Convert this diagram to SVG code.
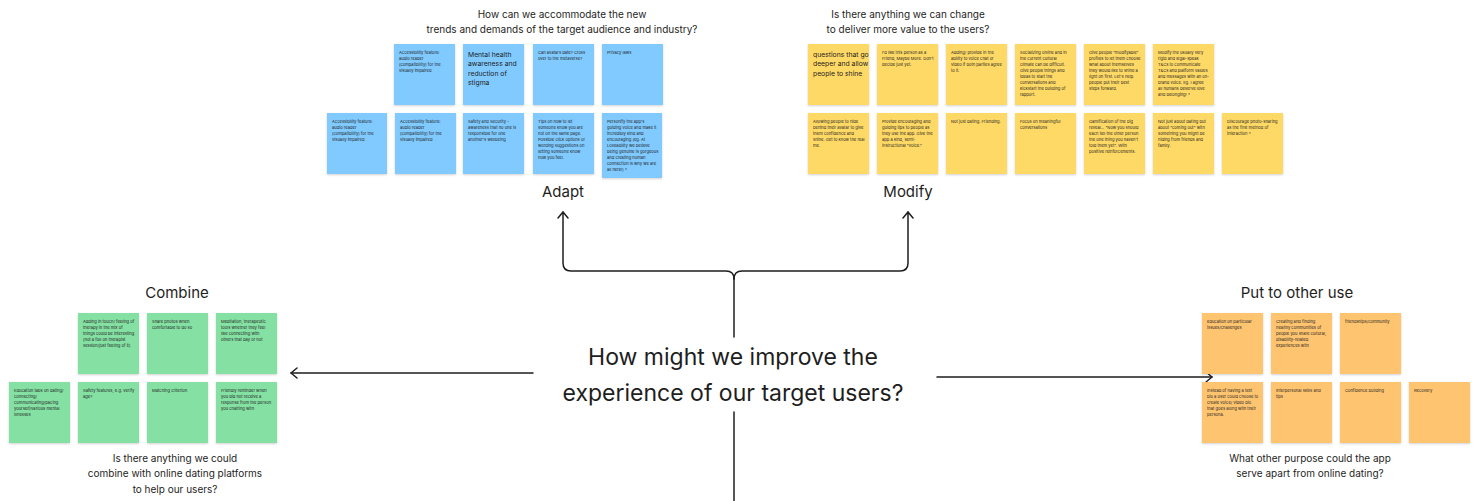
<svg xmlns="http://www.w3.org/2000/svg" width="1477" height="501" viewBox="0 0 1477 501">
<style>
text{font-family:Inter,"Liberation Sans",sans-serif;fill:#1e1e1e}
.s{font-size:4.1px}
.L{font-size:6.8px}
.t{font-size:15px;text-anchor:middle}
.q{font-size:10px;text-anchor:middle}
.c{font-size:23px;text-anchor:middle}
.b{fill:#80caff}.y{fill:#ffd966}.g{fill:#85e0a3}.o{fill:#ffc470}
.st{filter:url(#sh)}
.ln{fill:none;stroke:#1e1e1e;stroke-width:1.5;stroke-linecap:round;stroke-linejoin:round}
</style>
<defs>
<filter id="sh" x="-10%" y="-10%" width="120%" height="130%"><feDropShadow dx="0" dy="1" stdDeviation="0.8" flood-color="#000" flood-opacity="0.18"/></filter>
<marker id="ah" viewBox="0 0 12 12" refX="11" refY="6" markerWidth="12" markerHeight="12" markerUnits="userSpaceOnUse" orient="auto"><path d="M5,1 L11,6 L5,11" fill="none" stroke="#1e1e1e" stroke-width="1.5" stroke-linecap="round" stroke-linejoin="round"/></marker>
</defs>
<rect width="1477" height="501" fill="#ffffff"/>

<g id="connectors">
<path class="ln" d="M734,279 Q734,271 726,271 H571 Q563,271 563,263 V212" marker-end="url(#ah)"/>
<path class="ln" d="M734,279 Q734,271 742,271 H900 Q908,271 908,263 V212" marker-end="url(#ah)"/>
<path class="ln" d="M734,279 V337"/>
<path class="ln" d="M533,373 H291" marker-end="url(#ah)"/>
<path class="ln" d="M937,377 H1212" marker-end="url(#ah)"/>
<path class="ln" d="M734,412 V501"/>
</g>

<g id="center">
<text class="c" x="733" y="365">How might we improve the</text>
<text class="c" x="733" y="401">experience of our target users?</text>
</g>

<g id="adapt">
<text class="q" x="562" y="18">How can we accommodate the new</text>
<text class="q" x="562" y="33">trends and demands of the target audience and industry?</text>
<text class="t" x="563" y="197">Adapt</text>
</g>
<g id="modify">
<text class="q" x="908" y="18">Is there anything we can change</text>
<text class="q" x="908" y="33">to deliver more value to the users?</text>
<text class="t" x="908" y="197">Modify</text>
</g>
<g id="combine">
<text class="t" x="177" y="298">Combine</text>
<text class="q" x="175" y="462">Is there anything we could</text>
<text class="q" x="175" y="477">combine with online dating platforms</text>
<text class="q" x="175" y="493">to help our users?</text>
</g>
<g id="put-to-other-use">
<text class="t" x="1297" y="298">Put to other use</text>
<text class="q" x="1310" y="462">What other purpose could the app</text>
<text class="q" x="1310" y="477">serve apart from online dating?</text>
</g>

<!-- Blue stickies -->
<g id="b1" transform="translate(394,44)"><rect class="b st" width="61" height="61"/><text class="s" x="5" y="10"><tspan x="5">Accessibility feature:</tspan><tspan x="5" dy="6">audio reader</tspan><tspan x="5" dy="6">(compatibility) for the</tspan><tspan x="5" dy="6">visually impaired</tspan></text></g>
<g id="b2" transform="translate(463,44)"><rect class="b st" width="61" height="61"/><text class="L" x="5" y="13"><tspan x="5">Mental health</tspan><tspan x="5" dy="9.3">awareness and</tspan><tspan x="5" dy="9.3">reduction of</tspan><tspan x="5" dy="9.3">stigma</tspan></text></g>
<g id="b3" transform="translate(533,44)"><rect class="b st" width="61" height="61"/><text class="s" x="5" y="10"><tspan x="5">Can avatars date? Cross</tspan><tspan x="5" dy="6">over to the metaverse?</tspan></text></g>
<g id="b4" transform="translate(602,44)"><rect class="b st" width="61" height="61"/><text class="s" x="5" y="10"><tspan x="5">Privacy laws</tspan></text></g>

<g id="b5" transform="translate(327,113)"><rect class="b st" width="60" height="61"/><text class="s" x="5" y="10"><tspan x="5">Accessibility feature:</tspan><tspan x="5" dy="6">audio reader</tspan><tspan x="5" dy="6">(compatibility) for the</tspan><tspan x="5" dy="6">visually impaired</tspan></text></g>
<g id="b6" transform="translate(395,113)"><rect class="b st" width="61" height="61"/><text class="s" x="5" y="10"><tspan x="5">Accessibility feature:</tspan><tspan x="5" dy="6">audio reader</tspan><tspan x="5" dy="6">(compatibility) for the</tspan><tspan x="5" dy="6">visually impaired</tspan></text></g>
<g id="b7" transform="translate(463,113)"><rect class="b st" width="61" height="61"/><text class="s" x="5" y="10"><tspan x="5">Safety and Security -</tspan><tspan x="5" dy="6">awareness that no one is</tspan><tspan x="5" dy="6">responsible for one</tspan><tspan x="5" dy="6">another's wellbeing</tspan></text></g>
<g id="b8" transform="translate(533,113)"><rect class="b st" width="61" height="61"/><text class="s" x="5" y="10"><tspan x="5">Tips on how to let</tspan><tspan x="5" dy="6">someone know you are</tspan><tspan x="5" dy="6">not on the same page.</tspan><tspan x="5" dy="6">Possible click options or</tspan><tspan x="5" dy="6">wording suggestions on</tspan><tspan x="5" dy="6">letting someone know</tspan><tspan x="5" dy="6">how you feel.</tspan></text></g>
<g id="b9" transform="translate(602,113)"><rect class="b st" width="60" height="65"/><text class="s" x="5" y="10"><tspan x="5">Personify the app's</tspan><tspan x="5" dy="6">guiding voice and make it</tspan><tspan x="5" dy="6">incredibly kind and</tspan><tspan x="5" dy="6">encouraging (eg. At</tspan><tspan x="5" dy="6">Loveability we believe</tspan><tspan x="5" dy="6">being genuine is gorgeous</tspan><tspan x="5" dy="6">and creating human</tspan><tspan x="5" dy="6">connection is why we are</tspan><tspan x="5" dy="6">all here!) *</tspan></text></g>

<!-- Yellow stickies -->
<g id="y1" transform="translate(808,44)"><rect class="y st" width="61" height="61"/><text class="L" x="5" y="13"><tspan x="5">questions that go</tspan><tspan x="5" dy="9.3">deeper and allow</tspan><tspan x="5" dy="9.3">people to shine</tspan></text></g>
<g id="y2" transform="translate(877,44)"><rect class="y st" width="61" height="61"/><text class="s" x="5" y="10"><tspan x="5">I'd like this person as a</tspan><tspan x="5" dy="6">Friend, Maybe More. Don't</tspan><tspan x="5" dy="6">decide just yet.</tspan></text></g>
<g id="y3" transform="translate(946,44)"><rect class="y st" width="61" height="61"/><text class="s" x="5" y="10"><tspan x="5">Adding/ provide in the</tspan><tspan x="5" dy="6">ability to voice chat or</tspan><tspan x="5" dy="6">video if both parties agree</tspan><tspan x="5" dy="6">to it.</tspan></text></g>
<g id="y4" transform="translate(1015,44)"><rect class="y st" width="61" height="61"/><text class="s" x="5" y="10"><tspan x="5">Socializing online and in</tspan><tspan x="5" dy="6">the current cultural</tspan><tspan x="5" dy="6">climate can be difficult.</tspan><tspan x="5" dy="6">Give people things and</tspan><tspan x="5" dy="6">ideas to start the</tspan><tspan x="5" dy="6">conversations and</tspan><tspan x="5" dy="6">kickstart the building of</tspan><tspan x="5" dy="6">rapport.</tspan></text></g>
<g id="y5" transform="translate(1084,44)"><rect class="y st" width="61" height="61"/><text class="s" x="5" y="10"><tspan x="5">Give people "modifyable"</tspan><tspan x="5" dy="6">profiles to let them choose</tspan><tspan x="5" dy="6">what about themselves</tspan><tspan x="5" dy="6">they would like to shine a</tspan><tspan x="5" dy="6">light on first. Let's help</tspan><tspan x="5" dy="6">people put their best</tspan><tspan x="5" dy="6">steps forward.</tspan></text></g>
<g id="y6" transform="translate(1153,44)"><rect class="y st" width="61" height="61"/><text class="s" x="5" y="10"><tspan x="5">Modify the usually very</tspan><tspan x="5" dy="6">rigid and legal-speak</tspan><tspan x="5" dy="6">T&amp;Cs to communicate</tspan><tspan x="5" dy="6">T&amp;Cs and platform values</tspan><tspan x="5" dy="6">and messages with an on-</tspan><tspan x="5" dy="6">brand voice. Eg. I agree</tspan><tspan x="5" dy="6">all humans deserve love</tspan><tspan x="5" dy="6">and belonging! *</tspan></text></g>

<g id="y7" transform="translate(808,113)"><rect class="y st" width="61" height="61"/><text class="s" x="5" y="10"><tspan x="5">Allowing people to hide</tspan><tspan x="5" dy="6">behind their avatar to give</tspan><tspan x="5" dy="6">them confidence and</tspan><tspan x="5" dy="6">shine. Get to know the real</tspan><tspan x="5" dy="6">me.</tspan></text></g>
<g id="y8" transform="translate(877,113)"><rect class="y st" width="61" height="61"/><text class="s" x="5" y="10"><tspan x="5">Provide encouraging and</tspan><tspan x="5" dy="6">guiding tips to people as</tspan><tspan x="5" dy="6">they use the app. Give the</tspan><tspan x="5" dy="6">app a kind, semi-</tspan><tspan x="5" dy="6">instructional "voice."</tspan></text></g>
<g id="y9" transform="translate(946,113)"><rect class="y st" width="61" height="61"/><text class="s" x="5" y="10"><tspan x="5">Not just dating. Friending.</tspan></text></g>
<g id="y10" transform="translate(1015,113)"><rect class="y st" width="61" height="61"/><text class="s" x="5" y="10"><tspan x="5">Focus on meaningful</tspan><tspan x="5" dy="6">conversations</tspan></text></g>
<g id="y11" transform="translate(1084,113)"><rect class="y st" width="61" height="61"/><text class="s" x="5" y="10"><tspan x="5">Gamification of the big</tspan><tspan x="5" dy="6">reveal... "Now you should</tspan><tspan x="5" dy="6">each tell the other person</tspan><tspan x="5" dy="6">the one thing you haven't</tspan><tspan x="5" dy="6">told them yet". With</tspan><tspan x="5" dy="6">positive reinforcements.</tspan></text></g>
<g id="y12" transform="translate(1153,113)"><rect class="y st" width="61" height="61"/><text class="s" x="5" y="10"><tspan x="5">Not just about dating but</tspan><tspan x="5" dy="6">about "coming out" with</tspan><tspan x="5" dy="6">something you might be</tspan><tspan x="5" dy="6">hiding from friends and</tspan><tspan x="5" dy="6">family.</tspan></text></g>
<g id="y13" transform="translate(1222,113)"><rect class="y st" width="61" height="61"/><text class="s" x="5" y="10"><tspan x="5">Discourage photo-sharing</tspan><tspan x="5" dy="6">as the first method of</tspan><tspan x="5" dy="6">interaction *</tspan></text></g>

<!-- Green stickies -->
<g id="g1" transform="translate(78,313)"><rect class="g st" width="61" height="61"/><text class="s" x="5" y="10"><tspan x="5">Adding in touch/ feeling of</tspan><tspan x="5" dy="6">therapy in the mix of</tspan><tspan x="5" dy="6">things could be interesting</tspan><tspan x="5" dy="6">(not a full on therapist</tspan><tspan x="5" dy="6">session/just feeling of it)</tspan></text></g>
<g id="g2" transform="translate(147,313)"><rect class="g st" width="61" height="61"/><text class="s" x="5" y="10"><tspan x="5">Share photos when</tspan><tspan x="5" dy="6">comfortable to do so</tspan></text></g>
<g id="g3" transform="translate(216,313)"><rect class="g st" width="61" height="61"/><text class="s" x="5" y="10"><tspan x="5">Meditation, therapeutic</tspan><tspan x="5" dy="6">tools whether they feel</tspan><tspan x="5" dy="6">like connecting with</tspan><tspan x="5" dy="6">others that day or not</tspan></text></g>

<g id="g4" transform="translate(9,382)"><rect class="g st" width="61" height="61"/><text class="s" x="5" y="10"><tspan x="5">Education tabs on dating/</tspan><tspan x="5" dy="6">connecting/</tspan><tspan x="5" dy="6">communicating/pacing</tspan><tspan x="5" dy="6">yourself/various mental</tspan><tspan x="5" dy="6">illnesses</tspan></text></g>
<g id="g5" transform="translate(78,382)"><rect class="g st" width="61" height="61"/><text class="s" x="5" y="10"><tspan x="5">Safety features, e.g. verify</tspan><tspan x="5" dy="6">age?</tspan></text></g>
<g id="g6" transform="translate(147,382)"><rect class="g st" width="61" height="61"/><text class="s" x="5" y="10"><tspan x="5">Matching criterion</tspan></text></g>
<g id="g7" transform="translate(216,382)"><rect class="g st" width="61" height="61"/><text class="s" x="5" y="10"><tspan x="5">Friendly reminder when</tspan><tspan x="5" dy="6">you did not receive a</tspan><tspan x="5" dy="6">response from the person</tspan><tspan x="5" dy="6">you chatting with</tspan></text></g>

<!-- Orange stickies -->
<g id="o1" transform="translate(1202,313)"><rect class="o st" width="61" height="61"/><text class="s" x="5" y="10"><tspan x="5">education on particular</tspan><tspan x="5" dy="6">issues/challenges</tspan></text></g>
<g id="o2" transform="translate(1271,313)"><rect class="o st" width="61" height="61"/><text class="s" x="5" y="10"><tspan x="5">Creating and finding</tspan><tspan x="5" dy="6">healthy communities of</tspan><tspan x="5" dy="6">people you share cultural,</tspan><tspan x="5" dy="6">disability-related</tspan><tspan x="5" dy="6">experiences with</tspan></text></g>
<g id="o3" transform="translate(1340,313)"><rect class="o st" width="61" height="61"/><text class="s" x="5" y="10"><tspan x="5">friendships/community</tspan></text></g>

<g id="o4" transform="translate(1202,382)"><rect class="o st" width="61" height="61"/><text class="s" x="5" y="10"><tspan x="5">Instead of having a text</tspan><tspan x="5" dy="6">bio a user could choose to</tspan><tspan x="5" dy="6">create voice/ video bio</tspan><tspan x="5" dy="6">that goes along with their</tspan><tspan x="5" dy="6">persona.</tspan></text></g>
<g id="o5" transform="translate(1271,382)"><rect class="o st" width="61" height="61"/><text class="s" x="5" y="10"><tspan x="5">Interpersonal skills and</tspan><tspan x="5" dy="6">tips</tspan></text></g>
<g id="o6" transform="translate(1340,382)"><rect class="o st" width="61" height="61"/><text class="s" x="5" y="10"><tspan x="5">Confidence building</tspan></text></g>
<g id="o7" transform="translate(1409,382)"><rect class="o st" width="61" height="61"/><text class="s" x="5" y="10"><tspan x="5">Recovery</tspan></text></g>
</svg>
